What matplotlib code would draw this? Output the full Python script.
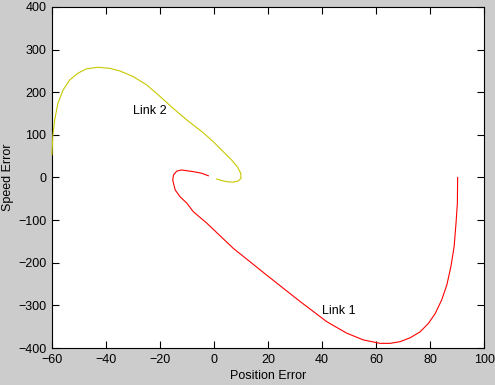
from matplotlib import pyplot as plt

# Link 1 trajectory (position error, speed error)
link1_x = [90.2, 90.1, 89.6, 88.9, 87.7, 86.2, 84.3, 81.9, 79.4, 76.3, 72.6,
           68.9, 65.2, 61.5, 55.3, 49.1, 41.7, 31.9, 19.5, 7.1, -2.7,
           -7.7, -10.1, -12.6, -14.4, -15.3, -15.0, -13.8, -12.0, -7.7,
           -4.6, -2.1]
link1_y = [0, -60, -107, -162, -209, -252, -287, -319, -342, -362, -376,
           -385, -389, -389, -381, -365, -338, -291, -229, -166, -107,
           -80, -60, -45, -29, -6, 6, 15, 17.6, 13.7,
           10, 4]

# Link 2 trajectory
link2_x = [-60, -59.7, -59.0, -57.8, -55.9, -53.4, -50.4, -47.3, -43.0, -38.6,
           -34.9, -29.9, -24.9, -20.0, -15.1, -10.1, -4.0, -0.3, 3.4, 6.5,
           8.6, 9.9, 10.0, 9.0, 7.1, 4.7, 2.2, 1.0]
link2_y = [53, 96, 135, 174, 205, 229, 244.5, 254.6, 258.5, 256,
           250, 236.5, 217, 190, 162, 135, 105, 84, 60.6, 41,
           25.4, 10, -2, -8, -11, -10, -6, -3.5]

xticks = [-60, -40, -20, 0, 20, 40, 60, 80, 100]
yticks = [-400, -300, -200, -100, 0, 100, 200, 300, 400]

plt.rcParams['font.family'] = ['Liberation Sans', 'DejaVu Sans']
plt.rcParams['font.size'] = 9

fig = plt.figure(figsize=(4.95, 3.85), dpi=100, facecolor='#cccccc')
ax = fig.add_axes([0.105, 0.096, 0.873, 0.886])
ax.set_facecolor('white')

ax.plot(link1_x, link1_y, color='red', linewidth=0.8, zorder=3, clip_on=False)
ax.plot(link2_x, link2_y, color='#c8c800', linewidth=0.8, zorder=3, clip_on=False)

ax.text(-30, 155, 'Link 2', va='center', ha='left')
ax.text(40, -313, 'Link 1', va='center', ha='left')

ax.set_xlim(-60, 100)
ax.set_ylim(-400, 400)
ax.set_xticks(xticks)
ax.set_yticks(yticks)
ax.tick_params(direction='in', top=True, right=True, length=5, width=0.8,
               labelsize=9)
ax.tick_params(axis='x', pad=4)
ax.tick_params(axis='y', pad=4)
for s in ax.spines.values():
    s.set_linewidth(0.8)

ax.set_xlabel('Position Error', labelpad=3)
ax.set_ylabel('Speed Error', labelpad=3)

fig.savefig('out.png', dpi=100, facecolor=fig.get_facecolor())
